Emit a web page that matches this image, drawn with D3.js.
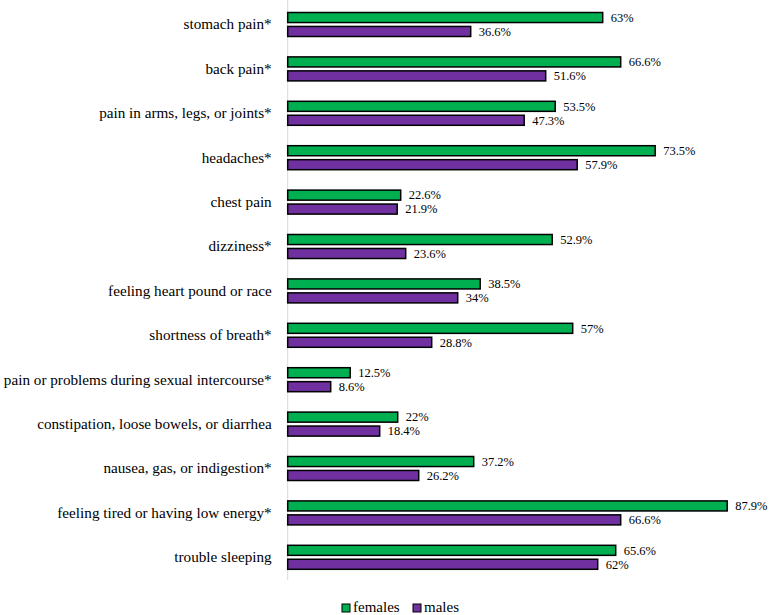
<!DOCTYPE html>
<html><head><meta charset="utf-8">
<script src="https://cdn.jsdelivr.net/npm/d3@7"></script>
<style>body{margin:0;background:#fff}svg{display:block}
svg text{font-family:"Liberation Serif","Times New Roman","DejaVu Serif",serif !important;}</style>
</head><body>
<svg id="c" width="771" height="615"></svg>
<script>
const categories = ["stomach pain*","back pain*","pain in arms, legs, or joints*","headaches*","chest pain","dizziness*","feeling heart pound or race","shortness of breath*","pain or problems during sexual intercourse*","constipation, loose bowels, or diarrhea","nausea, gas, or indigestion*","feeling tired or having low energy*","trouble sleeping"];
const females = [63,66.6,53.5,73.5,22.6,52.9,38.5,57,12.5,22,37.2,87.9,65.6];
const males = [36.6,51.6,47.3,57.9,21.9,23.6,34,28.8,8.6,18.4,26.2,66.6,62];
const seriesNames = ["females","males"];
const colors = {females:"#00B050", males:"#7030A0"};

const svg = d3.select("#c");
const x = d3.scaleLinear().domain([0,100]).range([287.7,787.7]);
const y = d3.scaleBand().domain(categories).range([2.3,579.5]).paddingInner(0).paddingOuter(0);
const yi = d3.scaleBand().domain(seriesNames).range([-12,12]).paddingInner(0.28).paddingOuter(0);

const rows = categories.map((c,i)=>({c, females:females[i], males:males[i]}));

// axis
const ax = svg.append("g").attr("transform",`translate(${x(0)},0)`)
  .call(d3.axisLeft(y).tickSize(0).tickPadding(16).tickSizeOuter(0));
ax.select(".domain").attr("stroke","#d9d9d9").attr("d",`M0,0V580`);
ax.selectAll("text").attr("font-size",15.2).attr("fill","#000");

const g = svg.append("g");
rows.forEach(r=>{
  const cy = y(r.c)+y.bandwidth()/2;
  seriesNames.forEach(s=>{
    g.append("rect")
      .attr("x",x(0)).attr("y",cy+yi(s))
      .attr("width",x(r[s])-x(0)).attr("height",yi.bandwidth())
      .attr("fill",colors[s]).attr("stroke","#000").attr("stroke-width",1.5);
    g.append("text")
      .attr("x",x(r[s])+8).attr("y",cy+yi(s)+yi.bandwidth()/2)
      .attr("dy","0.35em")
      .attr("font-size",12.5)
      .attr("fill","#000").text(r[s]+"%");
  });
});

// legend
const lg = svg.append("g");
const lx = [342,413];
seriesNames.forEach((s,i)=>{
  lg.append("rect").attr("x",lx[i]).attr("y",604).attr("width",8).attr("height",8)
    .attr("fill",colors[s]).attr("stroke","#000").attr("stroke-width",1);
  lg.append("text").attr("x",lx[i]+11).attr("y",612)
    .attr("font-size",15)
    .attr("fill","#000").text(s);
});
</script>
</body></html>
